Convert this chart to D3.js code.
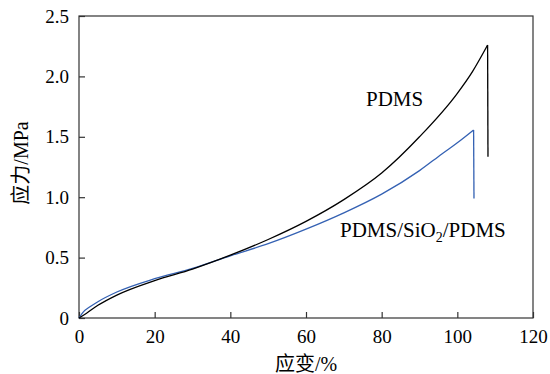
<!DOCTYPE html>
<meta charset="utf-8">
<style>
  body { margin: 0; background: #fff; }
  .axis path, .axis line { stroke: #333; stroke-width: 1.2; }
</style>
<body>
<script src="https://cdn.jsdelivr.net/npm/d3@7"></script>
<script>
// PDMS
var pdmsStrain = [0, 2, 5, 10, 20, 30, 40, 50, 60, 70, 80, 90, 100, 104, 108, 108.1];
var pdmsStress = [0, 0.04, 0.105, 0.19, 0.31, 0.405, 0.52, 0.65, 0.80, 0.98, 1.20, 1.50, 1.86, 2.04, 2.26, 1.335];
// PDMS/SiO2/PDMS
var sioStrain = [0, 1, 3, 5, 10, 20, 30, 40, 50, 60, 70, 80, 90, 96, 100, 104.3, 104.4];
var sioStress = [0, 0.045, 0.095, 0.135, 0.215, 0.325, 0.41, 0.515, 0.615, 0.735, 0.87, 1.025, 1.22, 1.36, 1.45, 1.556, 0.99];

var xTicks = [0, 20, 40, 60, 80, 100, 120];
var yTicks = [0, 0.5, 1.0, 1.5, 2.0, 2.5];
var yTickLabels = ["0", "0.5", "1.0", "1.5", "2.0", "2.5"];

var serif = "'Liberation Serif', 'DejaVu Serif', serif, 'Noto Sans CJK SC'";

var margin = {top: 16, right: 17, bottom: 56, left: 79},
    width = 550 - margin.left - margin.right,
    height = 374 - margin.top - margin.bottom;

var svg = d3.select("body").append("svg")
    .attr("width", 550)
    .attr("height", 374)
  .append("g")
    .attr("transform", "translate(" + margin.left + "," + margin.top + ")");

var x = d3.scaleLinear().domain([0, 120]).range([0, width]);
var y = d3.scaleLinear().domain([0, 2.5]).range([height, 0]);

// frame
svg.append("rect")
    .attr("width", width)
    .attr("height", height)
    .attr("fill", "none")
    .attr("stroke", "#333")
    .attr("stroke-width", 1.2);

var gx = svg.append("g")
    .attr("class", "x axis")
    .attr("transform", "translate(0," + height + ")")
    .call(d3.axisBottom(x).tickValues(xTicks).tickSizeInner(-6).tickSizeOuter(0).tickPadding(12));
gx.select(".domain").remove();

var gy = svg.append("g")
    .attr("class", "y axis")
    .call(d3.axisLeft(y).tickValues(yTicks).tickSizeInner(-6).tickSizeOuter(0).tickPadding(10)
      .tickFormat(function (d, i) { return yTickLabels[i]; }));
gy.select(".domain").remove();

svg.selectAll(".axis")
    .attr("font-family", serif)
    .attr("font-size", 19);
svg.selectAll(".axis text")
    .attr("fill", "#000");

var line = d3.line()
    .x(function (d) { return x(d[0]); })
    .y(function (d) { return y(d[1]); })
    .curve(d3.curveMonotoneX);

var lineStraight = d3.line()
    .x(function (d) { return x(d[0]); })
    .y(function (d) { return y(d[1]); });

function drawCurve(xs, ys, color) {
  var pts = xs.map(function (v, i) { return [v, ys[i]]; });
  svg.append("path")
      .attr("d", line(pts.slice(0, pts.length - 1)))
      .attr("fill", "none")
      .attr("stroke", color)
      .attr("stroke-width", 1.3);
  // fracture drop
  svg.append("path")
      .attr("d", lineStraight(pts.slice(pts.length - 2)))
      .attr("fill", "none")
      .attr("stroke", color)
      .attr("stroke-width", 1.3);
}

drawCurve(sioStrain, sioStress, "#3461b3");
drawCurve(pdmsStrain, pdmsStress, "#000");

// curve labels
svg.append("text")
    .attr("x", 287)
    .attr("y", 90)
    .attr("font-family", serif)
    .attr("font-size", 21)
    .text("PDMS");

var lab = svg.append("text")
    .attr("x", 261)
    .attr("y", 221)
    .attr("font-family", serif)
    .attr("font-size", 21);
lab.append("tspan").text("PDMS/SiO");
lab.append("tspan").attr("dy", 5).attr("font-size", 14).text("2");
lab.append("tspan").attr("dy", -5).text("/PDMS");

// axis titles
svg.append("text")
    .attr("x", width / 2)
    .attr("y", height + 53)
    .attr("text-anchor", "middle")
    .attr("font-family", serif)
    .attr("font-size", 20)
    .text("应变/%");

svg.append("text")
    .attr("transform", "translate(-51," + (height / 2 - 4) + ") rotate(-90)")
    .attr("text-anchor", "middle")
    .attr("font-family", serif)
    .attr("font-size", 20)
    .text("应力/MPa");
</script>
</body>
